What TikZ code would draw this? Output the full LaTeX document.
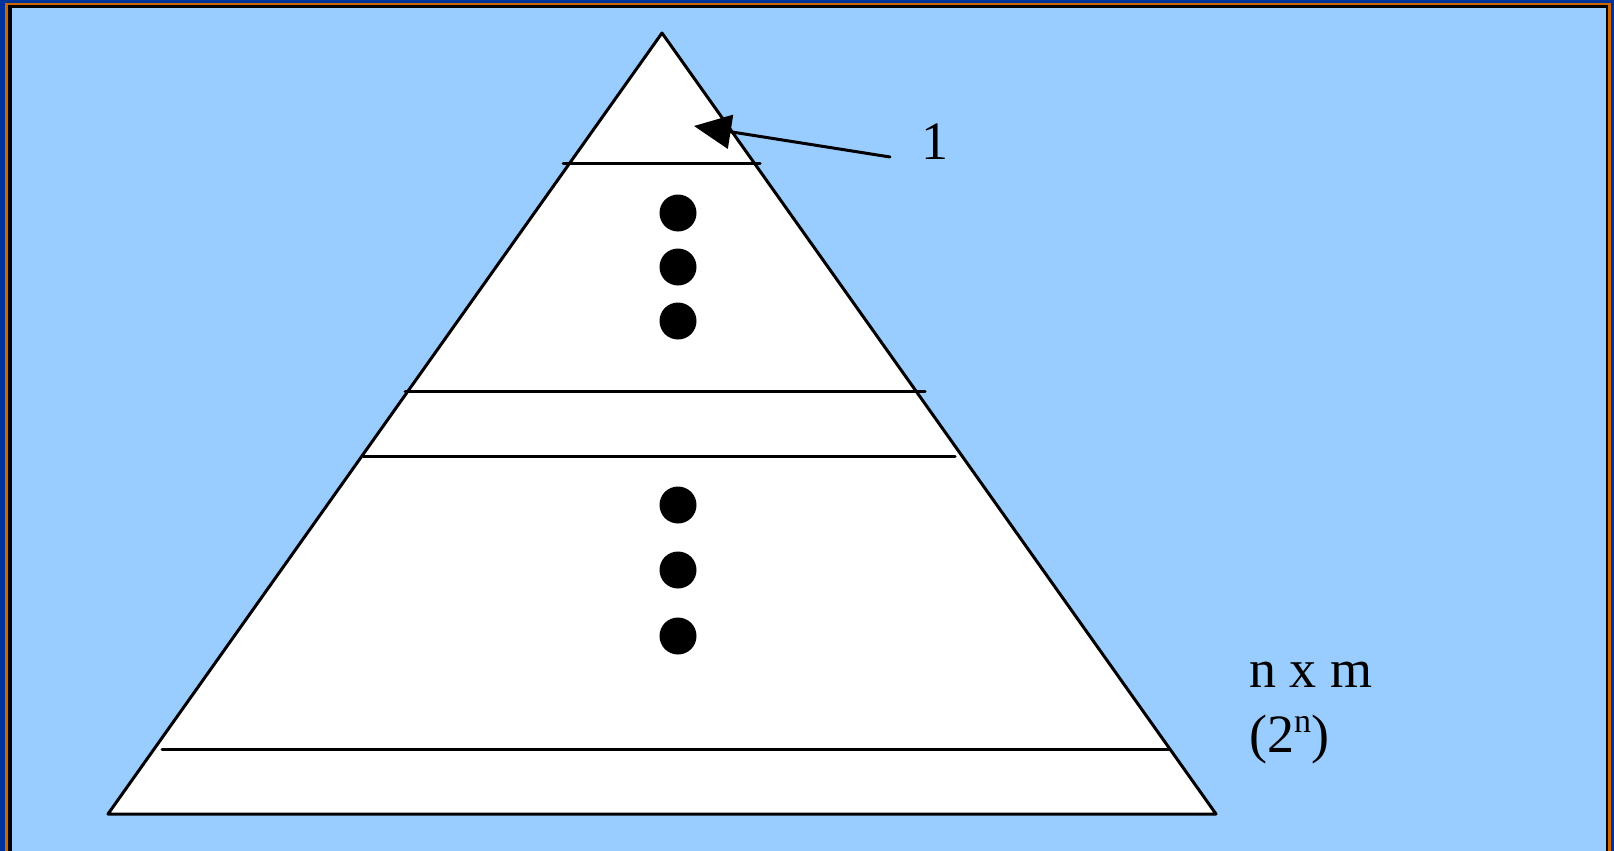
\documentclass[tikz,border=0pt]{standalone}
\usepackage{fontspec}
\setmainfont{Liberation Serif}
\usetikzlibrary{arrows.meta}
\definecolor{navy}{HTML}{003399}
\definecolor{orng}{HTML}{CC6600}
\definecolor{sky}{HTML}{99CCFF}
\newcommand{\supn}{\raisebox{20pt}{\fontsize{34}{34}\selectfont n}}
\begin{document}
\begin{tikzpicture}[x=1pt,y=-1pt,
  edge/.style={line width=3pt,draw=black},
  rung/.style={line width=3pt,draw=black,line cap=round},
  dot/.style={circle,fill=black,minimum size=37pt,inner sep=0pt},
  lbl/.style={font=\fontsize{54}{64}\selectfont,inner sep=0pt}]
\useasboundingbox (0,0) rectangle (1614,851);
\fill[navy] (0,0) rectangle (1614,851);
\fill[orng] (5,3) rectangle (1611,851);
\fill[black] (8,5) rectangle (1608,851);
\fill[sky] (12,8) rectangle (1606,851);
% triangle
\coordinate (apex) at (662,33);
\coordinate (bl) at (108,814);
\coordinate (br) at (1216,814);
\filldraw[fill=white,edge,line join=round] (bl) -- (apex) -- (br) -- cycle;
% rungs
\coordinate (r1a) at (563,163); \coordinate (r1b) at (760,163);
\coordinate (r2a) at (405,391); \coordinate (r2b) at (925,391);
\coordinate (r3a) at (363,456); \coordinate (r3b) at (955,456);
\coordinate (r4a) at (162,749); \coordinate (r4b) at (1170,749);
\draw[rung] (r1a) -- (r1b);
\draw[rung] (r2a) -- (r2b);
\draw[rung] (r3a) -- (r3b);
\draw[rung] (r4a) -- (r4b);
% dots
\node[dot] (d1) at (678,213) {};
\node[dot] (d2) at (678,267) {};
\node[dot] (d3) at (678,321) {};
\node[dot] (d4) at (678,505) {};
\node[dot] (d5) at (678,570) {};
\node[dot] (d6) at (678,636) {};
% arrow and label
\coordinate (tail) at (890,157);
\coordinate (tip) at (694,126);
\draw[line width=3pt,line cap=round,-{Triangle[length=37pt,width=34pt]}] (tail) -- (tip);
\node[lbl,anchor=base] (one) at (935,159) {1};
\node[lbl,anchor=base west] (nxm) at (1249,687) {n x m};
\node[lbl,anchor=base west] (pow) at (1249,752) {(2\supn)};
\end{tikzpicture}
\end{document}
